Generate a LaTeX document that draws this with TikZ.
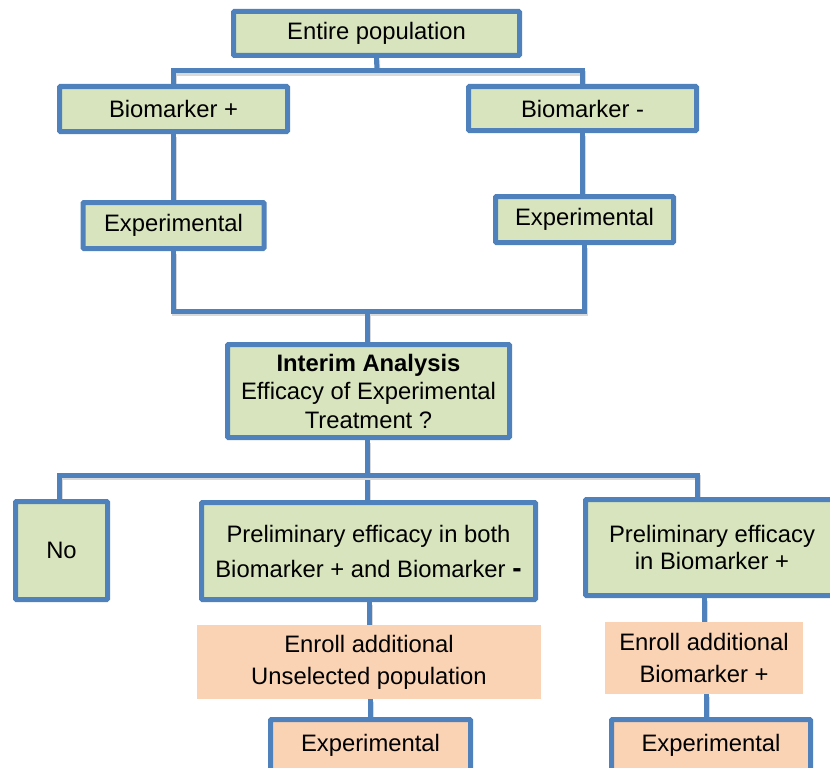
\documentclass[tikz,border=0pt]{standalone}
\usepackage{fontspec}
\setmainfont{Liberation Sans}
\usetikzlibrary{backgrounds,calc}
\definecolor{bblue}{HTML}{4F81BD}
\definecolor{gfill}{HTML}{D7E4BD}
\definecolor{ofill}{HTML}{FAD3B4}
\begin{document}
\begin{tikzpicture}[x=1pt,y=-1pt,
  box/.style={draw=bblue, line width=5pt, fill=gfill, inner sep=0pt, align=center,
    font=\fontsize{23.8}{28.5}\selectfont, rounded corners=1pt},
  obox/.style={box, fill=ofill},
  plainbox/.style={fill=ofill, inner sep=0pt, align=center, font=\fontsize{23.8}{32}\selectfont},
  conn/.style={draw=bblue, line width=5pt,
    preaction={draw=black!15, line width=5pt, transform canvas={shift={(1pt,-2.5pt)}}}}
]
\useasboundingbox (0,0) rectangle (830,768);

% top part
\node[box, minimum width=286pt, minimum height=44pt] (ent) at (376.5,33.5) {Entire population};
\node[box, minimum width=228pt, minimum height=45pt] (bp) at (173.5,109) {Biomarker +};
\node[box, minimum width=228pt, minimum height=44pt] (bm) at (582.5,108.5) {Biomarker -};
\node[box, minimum width=181pt, minimum height=46pt] (expL) at (173.5,225.5) {Experimental};
\node[box, minimum width=178pt, minimum height=46pt] (expR) at (584.5,219.5) {Experimental};

% interim
\node[box, minimum width=282pt, minimum height=93pt] (int) at (368.5,391)
  {\textbf{Interim Analysis}\\Efficacy of Experimental\\Treatment ?};

% decisions
\node[box, minimum width=92pt, minimum height=98pt] (no) at (61.5,550.5) {No};
\node[box, minimum width=334pt, minimum height=97pt, font=\fontsize{23.8}{35}\selectfont] (pboth) at (368.5,551)
  {Preliminary efficacy in both\\Biomarker + and Biomarker {\fontsize{28}{28}\selectfont\bfseries -}};
\node[box, minimum width=253pt, minimum height=96pt, font=\fontsize{23.8}{27}\selectfont] (pbp) at (712,547.5)
  {Preliminary efficacy\\in Biomarker +};

% enroll
\node[plainbox, minimum width=344pt, minimum height=74pt] (enU) at (369,662)
  {Enroll additional\\Unselected population};
\node[plainbox, minimum width=198pt, minimum height=72pt] (enB) at (704,658)
  {Enroll additional\\Biomarker +};

% bottom experimental
\node[obox, minimum width=200pt, minimum height=51pt] (expBL) at (370.5,745) {Experimental};
\node[obox, minimum width=199pt, minimum height=51pt] (expBR) at (711,745) {Experimental};

% junction coordinates
\coordinate (j1) at (377,71);
\coordinate (j2) at (367,311);
\coordinate (j3) at (367,475);
\coordinate (j3l) at (59,475);
\coordinate (j3r) at (697,475);

\begin{pgfonlayer}{background}
\fill[white] (0,0) rectangle (830,768);
\draw[conn] (ent.south) -- (j1);
\draw[conn] (bp.north) |- (j1) -| (bm.north);
\draw[conn] (bp.south) -- (expL.north);
\draw[conn] (bm.south) -- (bm.south |- expR.north);
\draw[conn] (expL.south) |- (j2) -| (expR.south);
\draw[conn] (j2) -- (j2 |- int.north);
\draw[conn] (int.south -| j3) -- (j3 |- pboth.north);
\draw[conn] (j3l |- no.north) -- (j3l) -- (j3r) -- (j3r |- pbp.north);
\draw[conn] (pboth.south -| enU.north) -- (enU.north);
\draw[conn] (enU.south -| expBL.north) -- (expBL.north);
\draw[conn] (pbp.south -| enB.north) -- (enB.north);
\draw[conn] ($(enB.south)+(2,0)$) -- ($(enB.south |- expBR.north)+(2,0)$);
\end{pgfonlayer}
\end{tikzpicture}
\end{document}
